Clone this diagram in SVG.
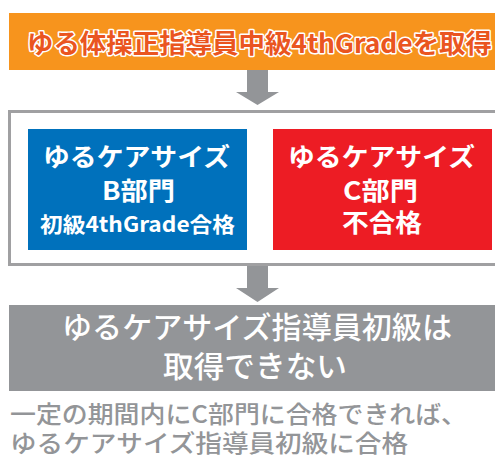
<svg xmlns="http://www.w3.org/2000/svg" width="495" height="458" viewBox="0 0 495 458">
<style>
text{font-family:"Noto Sans CJK JP","Noto Sans",sans-serif;text-anchor:middle}
.title{font-size:26px;font-weight:700;fill:#ea5520;stroke:#ffffff;stroke-width:3px;paint-order:stroke;stroke-linejoin:round}
.box{font-weight:700;fill:#ffffff}
.gray{font-size:30px;font-weight:500;fill:#ffffff}
.note{font-size:24px;font-weight:500;fill:#939598;text-anchor:start}
.arrow{fill:#939598}
</style>
<rect width="495" height="458" fill="#ffffff"/>
<g id="title-node">
<rect x="9" y="13" width="490" height="57" fill="#f7941d"/>
<text class="title" x="259.5" y="53" textLength="465" lengthAdjust="spacingAndGlyphs">ゆる体操正指導員中級4thGradeを取得</text>
</g>
<g id="connectors">
<path class="arrow" d="M247,70 H268 V92 H279 L257.5,105 L236,92 H247 Z"/>
<path class="arrow" d="M247,266 H268 V288 H279 L257.5,302 L236,288 H247 Z"/>
</g>
<g id="outer-box">
<rect x="9.5" y="111.5" width="495" height="153" fill="none" stroke="#a0a0a2" stroke-width="3"/>
</g>
<g id="node-b">
<rect x="28" y="129" width="219" height="121" fill="#0071bc"/>
<text class="box" x="136.5" y="166" font-size="25" textLength="187" lengthAdjust="spacingAndGlyphs">ゆるケアサイズ</text>
<text class="box" x="138.5" y="200" font-size="25" textLength="73" lengthAdjust="spacingAndGlyphs">B部門</text>
<text class="box" x="137.5" y="232" font-size="21" textLength="195" lengthAdjust="spacingAndGlyphs">初級4thGrade合格</text>
</g>
<g id="node-c">
<rect x="273" y="129" width="219" height="121" fill="#ed1c24"/>
<text class="box" x="381.5" y="166" font-size="25" textLength="187" lengthAdjust="spacingAndGlyphs">ゆるケアサイズ</text>
<text class="box" x="380.5" y="200" font-size="25" textLength="75" lengthAdjust="spacingAndGlyphs">C部門</text>
<text class="box" x="382" y="232" font-size="25" textLength="80" lengthAdjust="spacingAndGlyphs">不合格</text>
</g>
<g id="result-node">
<rect x="9" y="305" width="490" height="86" fill="#939598"/>
<text class="gray" x="257" y="338" textLength="390" lengthAdjust="spacingAndGlyphs">ゆるケアサイズ指導員初級は</text>
<text class="gray" x="255" y="377" textLength="184" lengthAdjust="spacingAndGlyphs">取得できない</text>
</g>
<g id="note">
<text class="note" x="10" y="423" textLength="457" lengthAdjust="spacingAndGlyphs">一定の期間内にC部門に合格できれば、</text>
<text class="note" x="10" y="452" textLength="398" lengthAdjust="spacingAndGlyphs">ゆるケアサイズ指導員初級に合格</text>
</g>
</svg>
